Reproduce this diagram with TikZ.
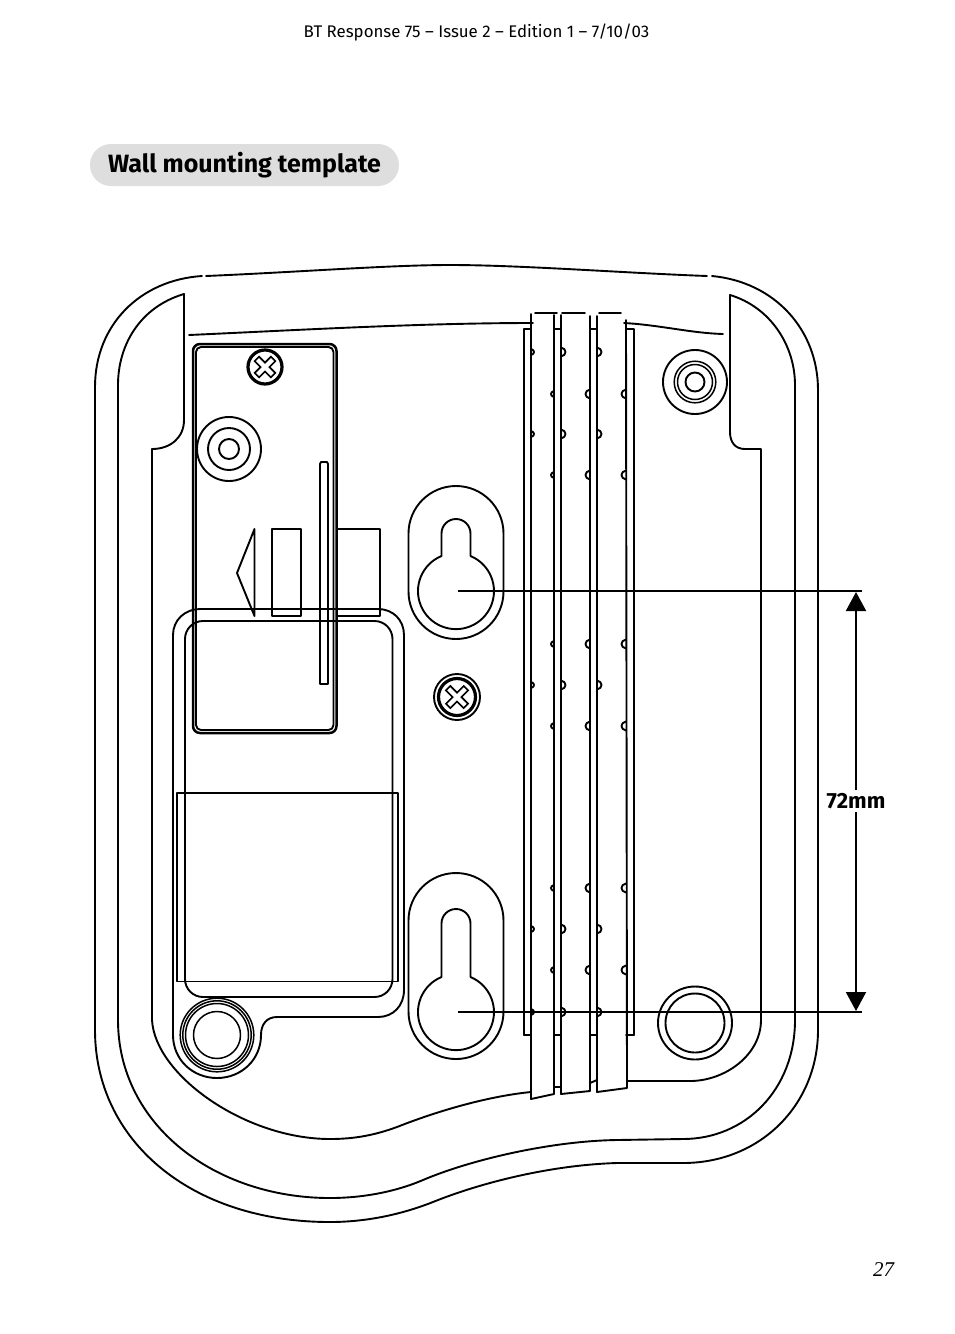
\documentclass[tikz,border=0pt]{standalone}
\usepackage{fontspec}
\setmainfont{Fira Sans}
\newfontfamily\pagefont{Liberation Serif}
\usetikzlibrary{arrows.meta}
\tikzset{
  ln/.style={line width=1.9pt,line join=round,line cap=round},
  platerim/.style={line width=2.5pt,line join=round},
  thk/.style={line width=3.2pt},
  thn/.style={line width=1.5pt,line join=round},
  crossline/.style={line width=1.6pt,line join=miter},
  lbl/.style={inner sep=0pt,text=black},
  dimarrow/.style={line width=2pt,-{Triangle[length=19pt,width=20pt]}}
}
\newcommand\crossmark[3]{%
  \draw[crossline,shift={(#1,#2)},rotate=45] (-#3,-3.1) -- (-3.1,-3.1) -- (-3.1,-#3) -- (3.1,-#3) -- (3.1,-3.1) -- (#3,-3.1) -- (#3,3.1) -- (3.1,3.1) -- (3.1,#3) -- (-3.1,#3) -- (-3.1,3.1) -- (-#3,3.1) -- cycle;}
\newcommand\bumpR[4]{\draw[ln] (#1,#2-#3) .. controls (#1+#4,#2-#3+1) and (#1+#4,#2+#3-1) .. (#1,#2+#3);}
\newcommand\bumpL[4]{\draw[ln] (#1,#2-#3) .. controls (#1-#4,#2-#3+1) and (#1-#4,#2+#3-1) .. (#1,#2+#3);}
\begin{document}
\begin{tikzpicture}[x=1pt,y=-1pt]
\path[use as bounding box,fill=white] (0,0) rectangle (954,1334);

% texts
\node[lbl,font=\fontsize{16.85}{20}\selectfont] (header) at (476.5,32.5) {BT Response 75 – Issue 2 – Edition 1 – 7/10/03};
\path[fill=black!13,rounded corners=21pt] (90,144) rectangle (399,186);
\node[lbl,font=\fontsize{25}{28}\selectfont\bfseries] (title) at (244.5,165) {Wall mounting template};
\node[lbl,font=\fontsize{21}{24}\selectfont\pagefont\itshape] (pagenum) at (883.5,1270) {27};

% outer contour
\draw[ln] (202,276) .. controls (140,280) and (95,325) .. (95,387) -- (95,1030)
  .. controls (95,1140) and (190,1222) .. (330,1222)
  .. controls (365,1222) and (400,1215) .. (433,1202)
  .. controls (480,1183) and (550,1165) .. (617,1163) -- (683,1163)
  .. controls (760,1163) and (818,1105) .. (818,1030) -- (818,390)
  .. controls (818,330) and (775,282) .. (712,276);
\draw[ln] (206,276) .. controls (300,272) and (390,265) .. (450,265) .. controls (520,265) and (625,273) .. (707,276);

% second contour
\draw[ln] (152,449) .. controls (170,449) and (184,438) .. (184,420) -- (184,294)
  .. controls (140,307) and (118,345) .. (118,385) -- (118,1020)
  .. controls (118,1125) and (215,1198) .. (330,1198)
  .. controls (362,1198) and (395,1192) .. (423,1180)
  .. controls (470,1160) and (550,1141) .. (617,1140) -- (683,1139)
  .. controls (745,1139) and (795,1090) .. (795,1020) -- (795,385)
  .. controls (795,345) and (770,307) .. (730,295) -- (730,432)
  .. controls (730,442) and (735,449) .. (745,449) -- (761,449) -- (761,1020)
  .. controls (761,1055) and (725,1081) .. (690,1081) -- (627,1081);

% inner bottom contour
\draw[ln] (152,449) -- (152,1020)
  .. controls (155,1075) and (245,1139) .. (330,1139)
  .. controls (355,1139) and (375,1135) .. (397,1127)
  .. controls (440,1110) and (490,1096) .. (531,1092);
\draw[ln] (590,1083) -- (597,1080);

% top inner line
\draw[ln] (189,335) .. controls (300,330) and (420,323) .. (533,323);
\draw[ln] (624,323) .. controls (660,325) and (690,333) .. (723,334);

% plate
\draw[platerim,rounded corners=7pt] (193,344) rectangle (336.5,733);
\draw[ln,rounded corners=5pt] (196,347) rectangle (333.5,730);
\draw[ln] (229,449) circle[radius=32] (229,449) circle[radius=21] (229,449) circle[radius=10];
\draw[ln] (320,684) -- (320,464) -- (321,462) -- (327,462) -- (328,464) -- (328,684) -- cycle;
\draw[ln] (254.5,529) -- (237,573) -- (254.5,616) -- cycle;
\draw[ln] (272,529) rectangle (301,616);
\draw[ln] (337,529) -- (380,529) -- (380,616) -- (337,616);
% plate screw
\draw[thk] (265,367) circle[radius=17];
\crossmark{265}{367}{11.5}

% body box
\draw[ln] (173,1035) -- (173,635) .. controls (173,620) and (185,609) .. (200,609) -- (378,609)
  .. controls (393,609) and (404,620) .. (404,635) -- (404,990)
  .. controls (404,1006) and (393,1017) .. (378,1017) -- (277,1017)
  .. controls (267,1017) and (261,1024) .. (261,1035)
  .. controls (261,1060) and (241,1078) .. (217,1078)
  .. controls (193,1078) and (173,1060) .. (173,1035);
\draw[ln,rounded corners=18pt] (185,621) rectangle (392.5,997);
\draw[ln] (177,793) rectangle (398,981.5);
\foreach \r in {23.5,31.5,34.2,36.8} \draw[thn] (217,1035) circle[radius=\r];

% keyholes
\draw[ln,rounded corners=47.5pt] (408.5,486) rectangle (503.5,639);
\draw[ln,rounded corners=47.5pt] (408.5,873) rectangle (503.5,1059);
\draw[ln] (470.5,556) -- (470.5,533.5) arc[start angle=0,end angle=180,radius=14.5pt] -- (441.5,556) arc[start angle=112.4,end angle=427.6,radius=38pt];
\draw[ln] (470.5,977) -- (470.5,923.5) arc[start angle=0,end angle=180,radius=14.5pt] -- (441.5,977) arc[start angle=112.4,end angle=427.6,radius=38pt];

% centre screw
\draw[ln] (457,697) circle[radius=23];
\draw[thk] (457,697) circle[radius=18.5];
\crossmark{457}{697}{12.5}

% right top boss
\draw[ln] (695,382) circle[radius=32] (695,382) circle[radius=9.5];
\draw[thn] (695,382) circle[radius=20.8] (695,382) circle[radius=17.5];
% right bottom boss
\draw[ln] (695,1023) ellipse[x radius=37,y radius=36.5];
\draw[ln] (695,1023) circle[radius=29.5];

% strips
\draw[ln] (524,1035) -- (524,329) -- (531,329);
\draw[ln] (634,1035) -- (634,329) -- (626,329);
\draw[ln] (524,1035) -- (531,1035);
\draw[ln] (626,1035) -- (634,1035);
\draw[ln] (554,329) -- (561,329) (590,329) -- (597,329);
\draw[ln] (554,1035) -- (561,1035) (590,1035) -- (597,1035);
\draw[ln] (554,1087) -- (561,1087);
\draw[ln] (535,313) -- (557,313) (562,313) -- (585,313) (599,313) -- (621,313);
\draw[ln] (531,314) -- (531,1099) -- (554,1094) -- (554,315);
\draw[ln] (561,315) -- (561,1094) -- (590,1091) -- (590,316);
\draw[ln] (597,316) -- (597,1092) -- (627,1088) -- (626,320);
\foreach \y in {352,434,685,929,1012} {
  \bumpR{531}{\y}{3}{4} \bumpR{561}{\y}{4.5}{6} \bumpR{597}{\y}{4.5}{6}
}
\foreach \y in {394,475,644,726,888,970} {
  \bumpL{554}{\y}{3}{4} \bumpL{590}{\y}{4.5}{6} \bumpL{626}{\y}{4.5}{6}
}

% dimension
\coordinate (dimtopstart) at (458,591);
\coordinate (dimtopend) at (862,591);
\coordinate (dimbotstart) at (458,1012);
\coordinate (dimbotend) at (862,1012);
\coordinate (dimtop) at (856,592);
\coordinate (dimbot) at (856,1011);
\draw[line width=2pt] (dimtopstart) -- (dimtopend);
\draw[line width=2pt] (dimbotstart) -- (dimbotend);
\node[lbl,font=\fontsize{22}{24}\selectfont\bfseries,fill=white,inner ysep=3pt,inner xsep=0pt] (dimlabel) at (856,801) {72mm};
\draw[dimarrow] (dimlabel) -- (dimtop);
\draw[dimarrow] (dimlabel) -- (dimbot);
\end{tikzpicture}
\end{document}
